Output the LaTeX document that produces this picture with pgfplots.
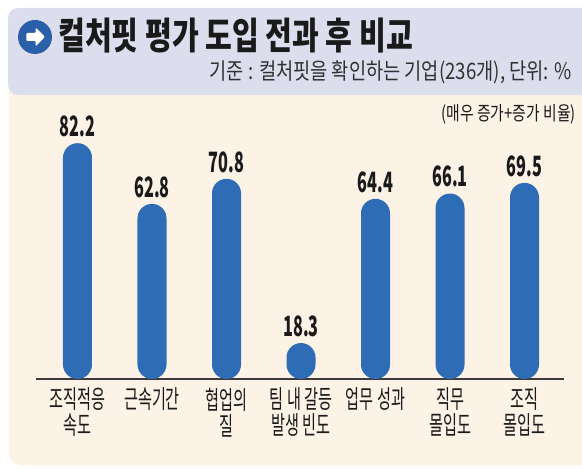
\documentclass[border=0pt]{standalone}
\usepackage{fontspec}
\setmainfont{Noto Sans CJK KR}
\usepackage{pgfplots}
\pgfplotsset{compat=1.18}

\definecolor{barblue}{HTML}{2E6CB5}
\definecolor{headbg}{HTML}{DCDEEE}
\definecolor{panelbg}{HTML}{FCF2E6}
\definecolor{iconblue}{HTML}{2B5FA9}
\definecolor{ink}{HTML}{1A1A1A}

\begin{document}
\begin{tikzpicture}
% canvas 582 x 468 px, 1px = 0.75pt
\path[use as bounding box] (0,0) rectangle (436.5pt,351pt);
\begin{scope}
  \clip (0,0) rectangle (436.5pt,351pt);
  \fill[panelbg, rounded corners=9pt] (6.5pt,2.25pt) rectangle (460pt,290pt);
  \fill[headbg, rounded corners=7.5pt] (6pt,279.75pt) rectangle (460pt,345pt);
\end{scope}
% icon
\fill[iconblue] (26.25pt,323.25pt) circle (12.75pt);
\fill[white, rounded corners=0.8pt, shift={(26.25pt,323.25pt)}]
  (-6.5pt,-3pt) -- (0.5pt,-3pt) -- (0.5pt,-7pt) -- (7.5pt,0pt) -- (0.5pt,7pt) -- (0.5pt,3pt) -- (-6.5pt,3pt) -- cycle;
% titles
\node[anchor=west, inner sep=0pt, text=ink] at (43.5pt,324.5pt)
  {\resizebox{266pt}{\height}{\fontsize{28}{30}\selectfont\bfseries 컬처핏 평가 도입 전과 후 비교}};
\node[anchor=east, inner sep=0pt, text=ink!90] at (429pt,297pt)
  {\resizebox{271.5pt}{\height}{\fontsize{17}{19}\selectfont 기준 : 컬처핏을 확인하는 기업(236개), 단위: \%}};
\node[anchor=east, inner sep=0pt, text=ink] at (432pt,265.5pt)
  {\resizebox{100.5pt}{\height}{\fontsize{14.5}{16}\selectfont (매우 증가+증가 비율)}};

\begin{axis}[
  at={(27pt,66.75pt)}, anchor=south west,
  scale only axis, width=396pt, height=209.25pt,
  xmin=-0.557, xmax=6.53, ymin=6.8, ymax=96,
  axis x line*=bottom, axis y line=none,
  x axis line style={ink!85, line width=0.8pt},
  ytick=\empty, xtick=data,
  xticklabels={조직적응\\속도, 근속기간, 협업의\\질, 팀 내 갈등\\발생 빈도, 업무 성과, 직무\\몰입도, 조직\\몰입도},
  major tick length=0pt,
  xticklabel style={align=center, font=\fontsize{19}{19.5}\selectfont, text=ink, xscale=0.6, inner sep=0pt, yshift=-6.5pt},
  ybar, bar width=21.75pt,
  nodes near coords={\pgfmathprintnumber[fixed,fixed zerofill,precision=1]{\pgfplotspointmeta}},
  every node near coord/.append style={font=\fontsize{21}{22}\selectfont\bfseries, text=ink, xscale=0.58, inner sep=0pt, yshift=4.5pt, anchor=south},
  /pgf/number format/assume math mode=true,
]
\addplot[fill=barblue, draw=none, rounded corners=10.875pt] coordinates
  {(0,82.2) (1,62.8) (2,70.8) (3,18.3) (4,64.4) (5,66.1) (6,69.5)};
\end{axis}
\end{tikzpicture}
\end{document}
